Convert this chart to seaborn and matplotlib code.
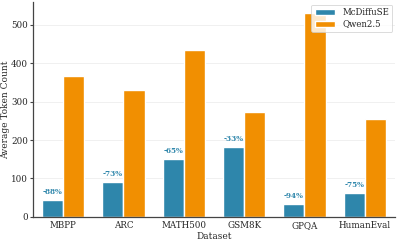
import matplotlib
matplotlib.use("Agg")
import matplotlib.pyplot as plt
import seaborn as sns
import pandas as pd

datasets = ["MBPP", "ARC", "MATH500", "GSM8K", "GPQA", "HumanEval"]
mcdiffuse = [44, 90, 151, 183, 33, 63]
qwen = [366, 331, 434, 274, 531, 255]
reductions = ["-88%", "-73%", "-65%", "-33%", "-94%", "-75%"]
models = ["McDiffuSE", "Qwen2.5"]
colors = ["#2E86AB", "#F18F01"]

df = pd.DataFrame({
    "Dataset": datasets * 2,
    "Model": [models[0]] * len(datasets) + [models[1]] * len(datasets),
    "Tokens": mcdiffuse + qwen,
})

sns.set_theme(style="whitegrid")
plt.rcParams["font.family"] = ["DejaVu Serif"]

fig, ax = plt.subplots(figsize=(3.97, 2.43), dpi=100)
fig.subplots_adjust(left=0.083, right=0.995, bottom=0.108, top=0.992)

sns.barplot(data=df, x="Dataset", y="Tokens", hue="Model", palette=colors,
            saturation=1, width=0.7, edgecolor="white", linewidth=1.0, ax=ax,
            errorbar=None)

for i, (v, r) in enumerate(zip(mcdiffuse, reductions)):
    ax.text(i - 0.175, v + 10, r, ha="center", va="bottom", fontsize=5.2,
            fontweight="bold", color=colors[0])

ax.set_ylim(0, 560)
ax.set_xlabel("Dataset", fontsize=6.5, labelpad=1.5)
ax.set_ylabel("Average Token Count", fontsize=6.5)
ax.yaxis.set_label_coords(-0.064, 0.5)
ax.tick_params(axis="both", labelsize=6.3, pad=1.5)
ax.tick_params(axis="y", length=2.2, width=0.8, color="#444444", left=True)
ax.tick_params(axis="x", length=0, pad=3)
ax.grid(axis="x", visible=False)
ax.grid(axis="y", color="#eeeeee", linewidth=0.6)
ax.set_facecolor("white")
for s in ["top", "right"]:
    ax.spines[s].set_visible(False)
for s in ["left", "bottom"]:
    ax.spines[s].set_color("#444444")
    ax.spines[s].set_linewidth(0.9)

leg = ax.legend(loc="upper right", fontsize=6.2, frameon=True, borderaxespad=0.3,
                handlelength=2.4, borderpad=0.4, labelspacing=0.3)
leg.get_frame().set_edgecolor("#cccccc")
leg.get_frame().set_linewidth(0.6)

fig.savefig("out.png", dpi=100)
